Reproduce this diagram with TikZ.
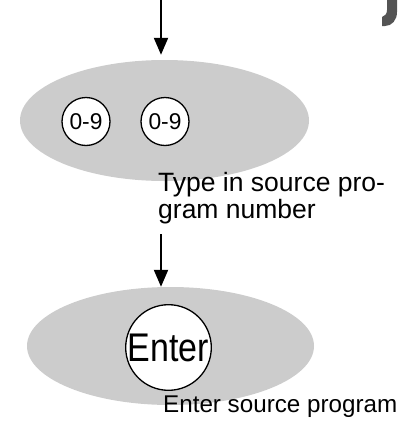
\documentclass[tikz,border=0pt]{standalone}
\usepackage{fontspec}
\setmainfont{Liberation Sans}
\usetikzlibrary{shapes.geometric,arrows.meta,positioning}

\tikzset{
  pad/.style={ellipse,fill=black!20,inner sep=0pt},
  key/.style={circle,draw,fill=white,line width=1.3pt,inner sep=0pt},
  flow/.style={line width=2pt,-{Triangle[length=17pt,width=14pt]}},
}

\begin{document}
\begin{tikzpicture}[x=1pt,y=-1pt]
        \useasboundingbox (0,0) rectangle (408,421);

        \node[pad,minimum width=289pt,minimum height=121pt] (pad1) at (164.5,120.5) {};
        \node[key,minimum size=48pt,font=\fontsize{22.8}{22.8}\selectfont] (num1) at (86,121.5) {0-9};
        \node[key,minimum size=48pt,font=\fontsize{22.8}{22.8}\selectfont] (num2) at (165,121.5) {0-9};
        \node[anchor=north west,inner sep=0pt,align=left,font=\fontsize{26.5}{27}\selectfont] (txt1) at (158,172) {Type in source pro-\\gram number};

        \node[pad,minimum width=287pt,minimum height=118pt] (pad2) at (170.5,346) {};
        \node[key,minimum size=82pt] (enter) at (168.5,347.5) {\scalebox{0.85}[1]{\fontsize{40}{40}\selectfont Enter}};
        \node[anchor=base west,inner sep=0pt,font=\fontsize{24.2}{24.2}\selectfont] (txt2) at (163,412) {Enter source program};

        \coordinate (in) at (161,0);
        \coordinate (out1) at (161,234);
        \draw[flow,shorten >=5pt] (in) -- (in |- pad1.north);
        \draw[flow] (out1) -- (out1 |- pad2.north);

        % Rest eines Zeichens oben rechts
        \fill[black!67] (387,0) -- (397,0) -- (397,12) .. controls (397,20) and (392,26) .. (385,26)
            -- (382,26) -- (382,17) .. controls (385,16) and (387,14) .. (387,10) -- cycle;
\end{tikzpicture}
\end{document}
